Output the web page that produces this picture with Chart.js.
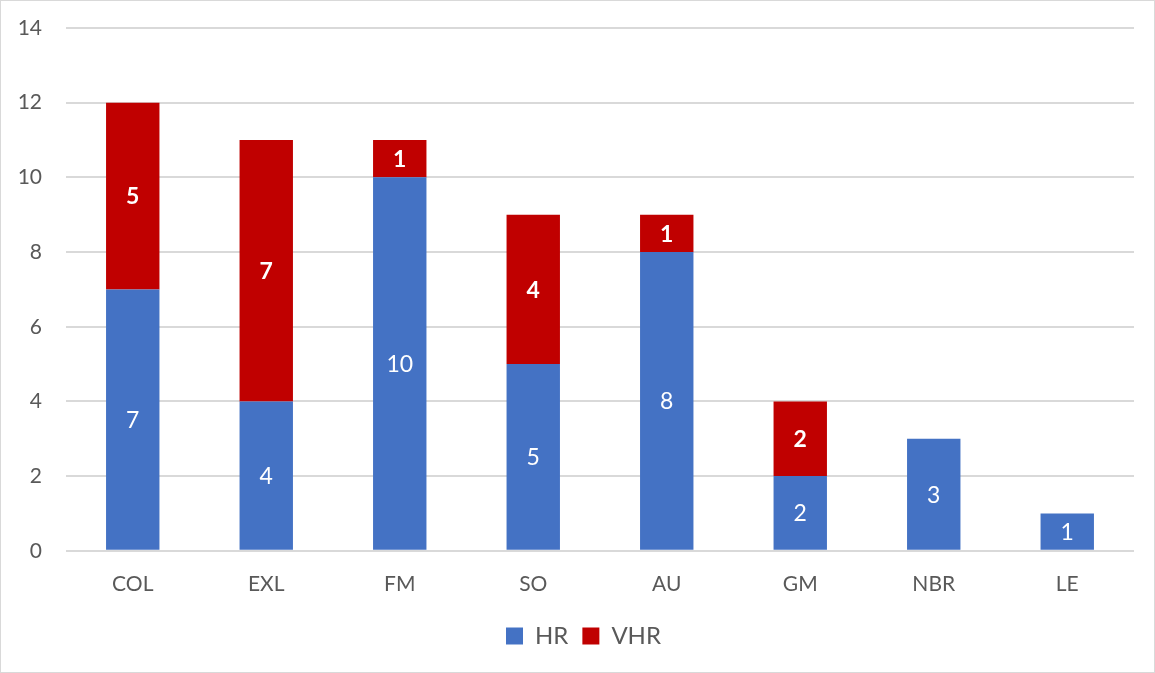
<!DOCTYPE html>
<html>
<head>
<meta charset="utf-8">
<title>HR / VHR by category</title>
<script src="https://cdn.jsdelivr.net/npm/chart.js"></script>
<style>
  html, body { margin: 0; padding: 0; background: #fff; }
  #wrap {
    width: 1153px;
    height: 671px;
    border: 1px solid #d9d9d9;
    position: relative;
  }
  canvas { display: block; }
</style>
</head>
<body>
<div id="wrap"><canvas id="chart" width="1153" height="671"></canvas></div>
<script>
const categories = ['COL', 'EXL', 'FM', 'SO', 'AU', 'GM', 'NBR', 'LE'];
const hrValues = [7, 4, 10, 5, 8, 2, 3, 1];
const vhrValues = [5, 7, 1, 4, 1, 2, null, null];

const FONT = "Lato, 'Open Sans', sans-serif";

// draw the value in the middle of every bar segment
const barLabels = {
  id: 'barLabels',
  afterDatasetsDraw(chart) {
    const ctx = chart.ctx;
    ctx.save();
    ctx.fillStyle = '#ffffff';
    ctx.textAlign = 'center';
    ctx.textBaseline = 'middle';
    chart.data.datasets.forEach((ds, i) => {
      const meta = chart.getDatasetMeta(i);
      ctx.font = (i === 1 ? 'bold ' : '') + '23px ' + FONT;
      meta.data.forEach((bar, j) => {
        const v = ds.data[j];
        if (v == null) return;
        const mid = (bar.y + bar.base) / 2;
        ctx.fillText(String(v), bar.x, mid + 1);
      });
    });
    ctx.restore();
  }
};

// nudge the legend a bit to the right, like the original
const legendShift = {
  id: 'legendShift',
  afterLayout(chart) {
    if (chart.legend) {
      chart.legend.left += 16;
      chart.legend.right += 16;
    }
  }
};

new Chart(document.getElementById('chart'), {
  type: 'bar',
  data: {
    labels: categories,
    datasets: [
      {
        label: 'HR',
        data: hrValues,
        backgroundColor: '#4472c4',
        barPercentage: 0.8,
        categoryPercentage: 0.5
      },
      {
        label: 'VHR',
        data: vhrValues,
        backgroundColor: '#c00000',
        barPercentage: 0.8,
        categoryPercentage: 0.5
      }
    ]
  },
  options: {
    responsive: false,
    animation: false,
    layout: { padding: { top: 27, right: 20, left: 0, bottom: 14 } },
    plugins: {
      tooltip: { enabled: false },
      legend: {
        position: 'bottom',
        labels: {
          font: { family: FONT, size: 24 },
          color: '#595959',
          boxWidth: 17,
          boxHeight: 17,
          padding: 14
        }
      }
    },
    scales: {
      x: {
        stacked: true,
        grid: { display: false },
        border: { display: false },
        ticks: {
          font: { family: FONT, size: 21 },
          color: '#595959',
          padding: 13
        }
      },
      y: {
        stacked: true,
        min: 0,
        max: 14,
        ticks: {
          stepSize: 2,
          font: { family: FONT, size: 21 },
          color: '#595959',
          padding: 24
        },
        grid: { color: '#d9d9d9', lineWidth: 2, drawTicks: false },
        border: { display: false },
        afterFit(scale) {
          scale.width = 65;
          scale.paddingTop = 0;
        }
      }
    }
  },
  plugins: [barLabels, legendShift]
});
</script>
</body>
</html>
